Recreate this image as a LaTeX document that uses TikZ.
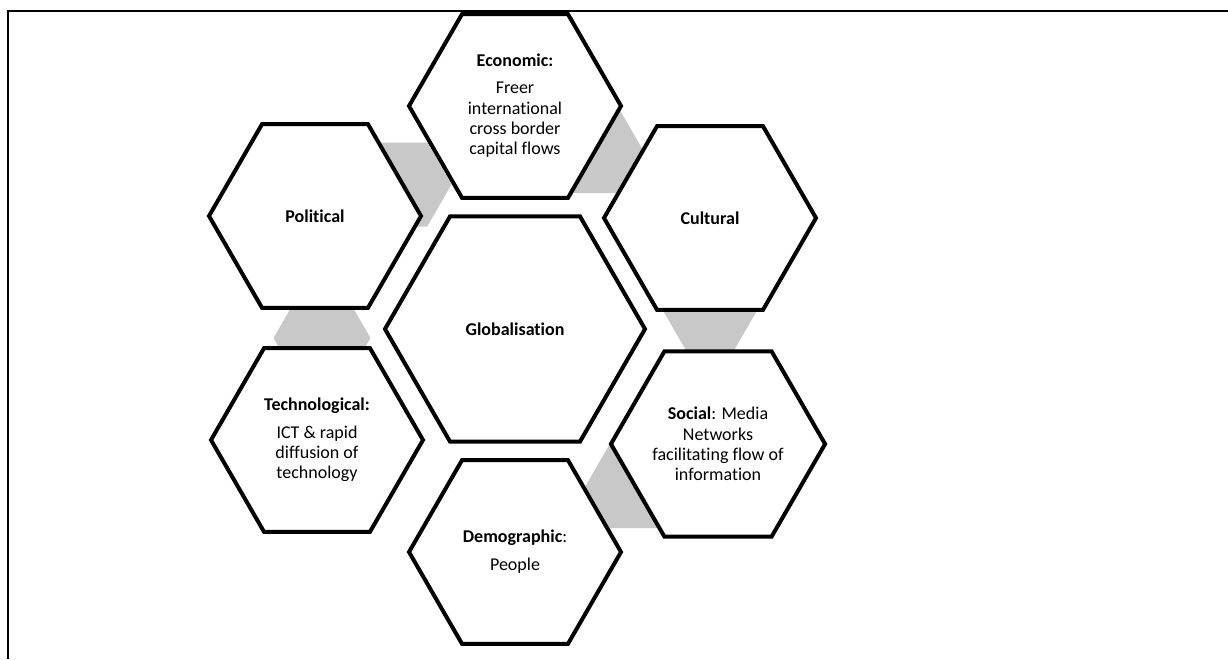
\documentclass[tikz,border=0pt]{standalone}
\usepackage{fontspec}
\setmainfont{Carlito}[Ligatures=NoCommon]
\usepackage{tikz}
\usetikzlibrary{shapes.geometric}

\definecolor{conngrey}{RGB}{200,200,200}

\begin{document}
\begin{tikzpicture}[x=1pt, y=-1pt,
    hexnode/.style={regular polygon, regular polygon sides=6, draw=black, line width=4pt, fill=white, minimum size=212pt, inner sep=0pt, align=center, font=\fontsize{18}{20.3}\selectfont},
    bighex/.style={hexnode, minimum size=260pt},
    linkhex/.style={regular polygon, regular polygon sides=6, fill=conngrey, draw=none, minimum size=97pt, inner sep=0pt},]
    \useasboundingbox (0,0) rectangle (1228,659);
    %Frame
    \draw[line width=2pt] (8,659) -- (8,11) -- (1228,11);

    %Links
    \node[linkhex] (polEco) at (403,184.5) {};
    \node[linkhex] (ecoCul) at (595,151) {};
    \node[linkhex] (culSoc) at (710,308) {};
    \node[linkhex] (socDem) at (634,486) {};
    \node[linkhex] (tecPol) at (322,338) {};

    %Nodes
    \node[bighex] (glob) at (515,329) {\textbf{Globalisation}};
    \node[hexnode] (eco) at (515,106) {\textbf{Economic:}\\[6.7pt]Freer\\international\\cross border\\capital flows};
    \node[hexnode] (cul) at (710,218) {\textbf{Cultural}};
    \node[hexnode] (soc) at (718,444) {\textbf{Social}: Media\\Networks\\facilitating flow of\\information};
    \node[hexnode] (dem) at (515,552) {\textbf{Demographic}:\\[7.5pt]People};
    \node[hexnode] (tec) at (317,440) {\textbf{Technological:}\\[7.5pt]ICT \& rapid\\diffusion of\\technology};
    \node[hexnode] (pol) at (315,216) {\textbf{Political}};
\end{tikzpicture}
\end{document}
